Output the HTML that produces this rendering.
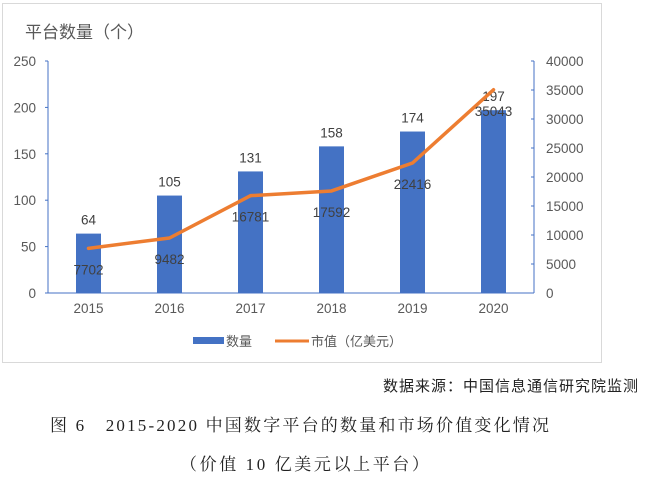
<!DOCTYPE html>
<html><head><meta charset="utf-8"><style>
body{margin:0;background:#fff;width:645px;height:477px;overflow:hidden;position:relative;font-family:"Liberation Sans","Noto Sans CJK SC",sans-serif}
.cap{position:absolute;font-family:"Liberation Serif","Noto Serif CJK SC",serif;color:#222;white-space:nowrap}
</style></head><body>
<div style="position:absolute;left:2px;top:3px;width:598px;height:358px;border:1px solid #d9d9d9"></div>
<svg width="645" height="477" style="position:absolute;left:0;top:0" font-family="Liberation Sans, Noto Sans CJK SC, sans-serif">
<g id="g"></g>
</svg>
<div class="cap" style="right:6px;top:375px;font-size:15px;font-family:'Noto Sans CJK SC',sans-serif;letter-spacing:1px">数据来源：中国信息通信研究院监测</div>
<div class="cap" style="left:50px;top:411px;font-size:17px;letter-spacing:2.2px">图 6&nbsp;&nbsp; 2015-2020 中国数字平台的数量和市场价值变化情况</div>
<div class="cap" style="left:180px;top:450px;font-size:17px;letter-spacing:2.6px">（价值 10 亿美元以上平台）</div>
<script>
const categories=['2015','2016','2017','2018','2019','2020'];
const counts=[64,105,131,158,174,197];
const values=[7702,9482,16781,17592,22416,35043];
const leftTicks=[0,50,100,150,200,250];
const rightTicks=[0,5000,10000,15000,20000,25000,30000,35000,40000];
const NS='http://www.w3.org/2000/svg',g=document.getElementById('g');
const X0=48,X1=534,Y0=293,Y1=61;
const xc=i=>X0+(X1-X0)/categories.length*(i+0.5);
const yl=v=>Y0-(Y0-Y1)*v/250;
const yr=v=>Y0-(Y0-Y1)*v/40000;
function mk(t,a,txt){const e=document.createElementNS(NS,t);for(const k in a)e.setAttribute(k,a[k]);if(txt!=null)e.textContent=txt;g.appendChild(e);return e;}
let e;
e=mk('text',{x:25,y:38,'font-size':17,fill:'#595959'},'平台数量（个）');


e=mk('line',{x1:X0,y1:Y1,x2:X0,y2:Y0,stroke:'#4472c4','stroke-width':1});


e=mk('line',{x1:X1,y1:Y1,x2:X1,y2:Y0,stroke:'#4472c4','stroke-width':1});


e=mk('line',{x1:X0,y1:Y0,x2:X1,y2:Y0,stroke:'#4472c4','stroke-width':1});


leftTicks.forEach(v=>{mk('line',{x1:X0-3,x2:X0,y1:yl(v),y2:yl(v),stroke:'#4472c4'});
e=mk('text',{x:36,y:yl(v)+5,'font-size':13.5,fill:'#595959','text-anchor':'end'},v);

});
rightTicks.forEach(v=>{mk('line',{x1:X1-3,x2:X1,y1:yr(v),y2:yr(v),stroke:'#4472c4'});
e=mk('text',{x:546,y:yr(v)+5,'font-size':13.5,fill:'#595959'},v);

});
categories.forEach((c,i)=>{
e=mk('rect',{x:xc(i)-12.5,y:yl(counts[i]),width:25,height:Y0-yl(counts[i]),fill:'#4472c4'});


e=mk('text',{x:xc(i),y:yl(counts[i])-9,'font-size':13.5,fill:'#404040','text-anchor':'middle'},counts[i]);


e=mk('text',{x:xc(i),y:313,'font-size':13.5,fill:'#595959','text-anchor':'middle'},c);

});
e=mk('polyline',{points:values.map((v,i)=>xc(i)+','+yr(v)).join(' '),fill:'none',stroke:'#ed7d31','stroke-width':3.5,'stroke-linejoin':'round','stroke-linecap':'round'});


values.forEach((v,i)=>{e=mk('text',{x:xc(i),y:yr(v)+26,'font-size':13.5,fill:'#404040','text-anchor':'middle'},v);

});
e=mk('rect',{x:193,y:337,width:31,height:7,fill:'#4472c4'});


e=mk('text',{x:226,y:346,'font-size':13,fill:'#595959'},'数量');


e=mk('line',{x1:275,y1:341,x2:309,y2:341,stroke:'#ed7d31','stroke-width':3});


e=mk('text',{x:311,y:346,'font-size':13,fill:'#595959'},'市值（亿美元）');


</script>
</body></html>
